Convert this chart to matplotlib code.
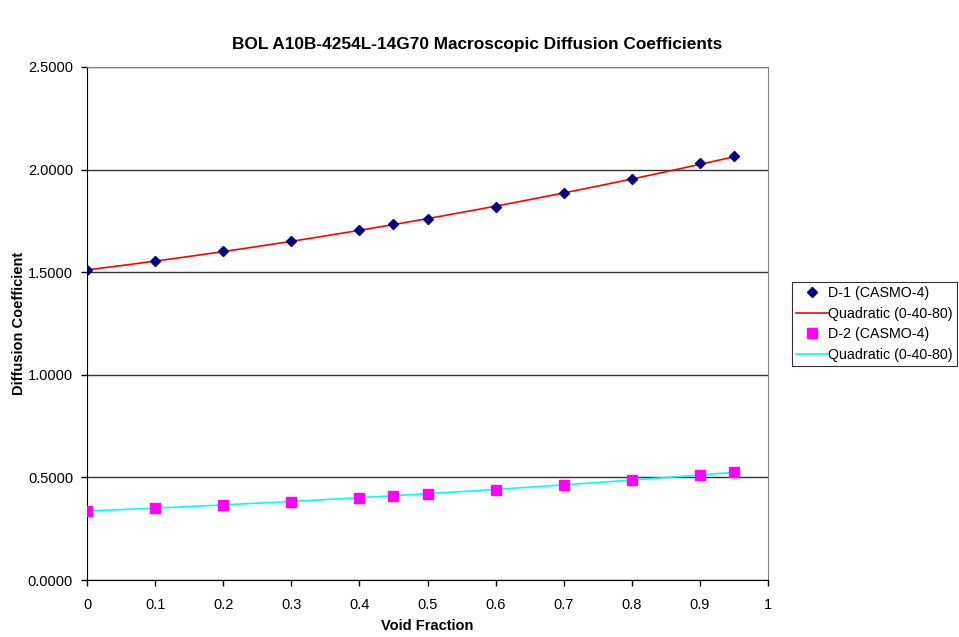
import matplotlib.pyplot as plt
import numpy as np
from matplotlib.ticker import FormatStrFormatter, MultipleLocator

plt.rcParams['font.family'] = ['Liberation Sans', 'DejaVu Sans']

void = [0.0, 0.1, 0.2, 0.3, 0.4, 0.45, 0.5, 0.6, 0.7, 0.8, 0.9, 0.95]
d1 = [1.511, 1.555, 1.603, 1.652, 1.704, 1.733, 1.761, 1.819, 1.886, 1.954, 2.030, 2.066]
d2 = [0.336, 0.351, 0.365, 0.382, 0.401, 0.411, 0.421, 0.440, 0.464, 0.487, 0.513, 0.528]
fit_void = [0.0, 0.4, 0.8]

void = np.array(void)
d1 = np.array(d1)
d2 = np.array(d2)
idx = [list(void).index(v) for v in fit_void]
c1 = np.polyfit(void[idx], d1[idx], 2)
c2 = np.polyfit(void[idx], d2[idx], 2)
xf = np.linspace(0, 0.95, 200)

fig = plt.figure(figsize=(9.59, 6.37), dpi=100)
ax = fig.add_axes([87 / 959, 57 / 637, 681 / 959, 513 / 637])

ax.plot(void, d1, linestyle='none', marker='D', color='#000080', markersize=5.5,
        label='D-1 (CASMO-4)', zorder=4)
ax.plot(xf, np.polyval(c1, xf), color='red', lw=1.2, label='Quadratic (0-40-80)', zorder=3)
ax.plot(void, d2, linestyle='none', marker='s', color='#ff00ff', markersize=6.5,
        label='D-2 (CASMO-4)', zorder=4)
ax.plot(xf, np.polyval(c2, xf), color='cyan', lw=1.2, label='Quadratic (0-40-80)', zorder=3)

ax.set_xlim(0, 1)
ax.set_ylim(0, 2.5)
ax.yaxis.set_major_locator(MultipleLocator(0.5))
ax.yaxis.set_major_formatter(FormatStrFormatter('%.4f'))
ax.set_xticks(np.arange(0, 1.01, 0.1))
ax.set_xticklabels(['0', '0.1', '0.2', '0.3', '0.4', '0.5', '0.6', '0.7', '0.8', '0.9', '1'])
ax.tick_params(labelsize=10.5, direction='out', length=4, width=1, color='black')
ax.tick_params(axis='x', pad=9)
ax.tick_params(axis='y', pad=6)
ax.grid(axis='y', color='#333333', lw=1)
ax.set_axisbelow(True)
for s in ['top', 'right']:
    ax.spines[s].set_color('#808080')
for s in ['left', 'bottom']:
    ax.spines[s].set_color('black')

ax.set_xlabel('Void Fraction', fontsize=10.5, fontweight='bold', labelpad=5)
ax.set_ylabel('Diffusion Coefficient', fontsize=10.5, fontweight='bold', labelpad=1)
fig.suptitle('BOL A10B-4254L-14G70 Macroscopic Diffusion Coefficients', x=477 / 959,
             y=1 - 45 / 637, fontsize=12.4, fontweight='bold', va='center')

leg = ax.legend(loc='center left', bbox_to_anchor=(792 / 959, 1 - 324 / 637),
                bbox_transform=fig.transFigure, fontsize=10.3, frameon=True,
                fancybox=False, edgecolor='black', handlelength=2.2,
                handletextpad=0.05, borderpad=0.3, labelspacing=0.45,
                borderaxespad=0, handleheight=0.7)
leg.get_frame().set_linewidth(0.8)

fig.savefig('out.png', dpi=100)
